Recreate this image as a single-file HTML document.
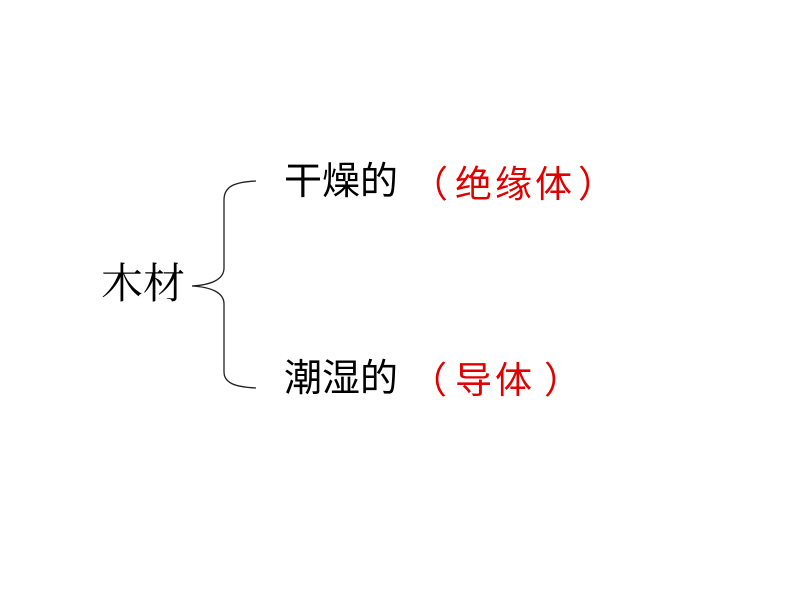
<!DOCTYPE html>
<html><head><meta charset="utf-8"><style>
body{margin:0;width:800px;height:600px;background:#fff;position:relative;overflow:hidden;font-family:"Liberation Sans","Noto Sans CJK SC",sans-serif;}
.t{position:absolute;white-space:nowrap;line-height:1;}
.r{color:#e00000;font-size:37px;}
</style></head><body>
<svg width="800" height="600" style="position:absolute;left:0;top:0">
<path d="M256,181 C235,182 224,186 224,200 L224,268 C224,280 210,285 192,286 C210,287 224,292 224,304 L224,372 C224,383 235,387 256,388" fill="none" stroke="#222" stroke-width="1.3"/>
</svg>
<div class="t" style="left:101px;top:264px;font-size:42px;font-family:'Liberation Serif','Noto Serif CJK SC',serif;">木材</div>
<div class="t" style="left:284px;top:163px;font-size:38px;">干燥的</div>
<div class="t r" style="left:411px;top:166px;">（</div>
<div class="t r" style="left:455px;top:166px;">绝</div>
<div class="t r" style="left:495px;top:166px;">缘</div>
<div class="t r" style="left:535px;top:166px;">体</div>
<div class="t r" style="left:578px;top:166px;">）</div>
<div class="t" style="left:284px;top:360px;font-size:38px;">潮湿的</div>
<div class="t r" style="left:410px;top:362px;">（</div>
<div class="t r" style="left:455px;top:362px;">导</div>
<div class="t r" style="left:495px;top:362px;">体</div>
<div class="t r" style="left:544px;top:362px;">）</div>
</body></html>
